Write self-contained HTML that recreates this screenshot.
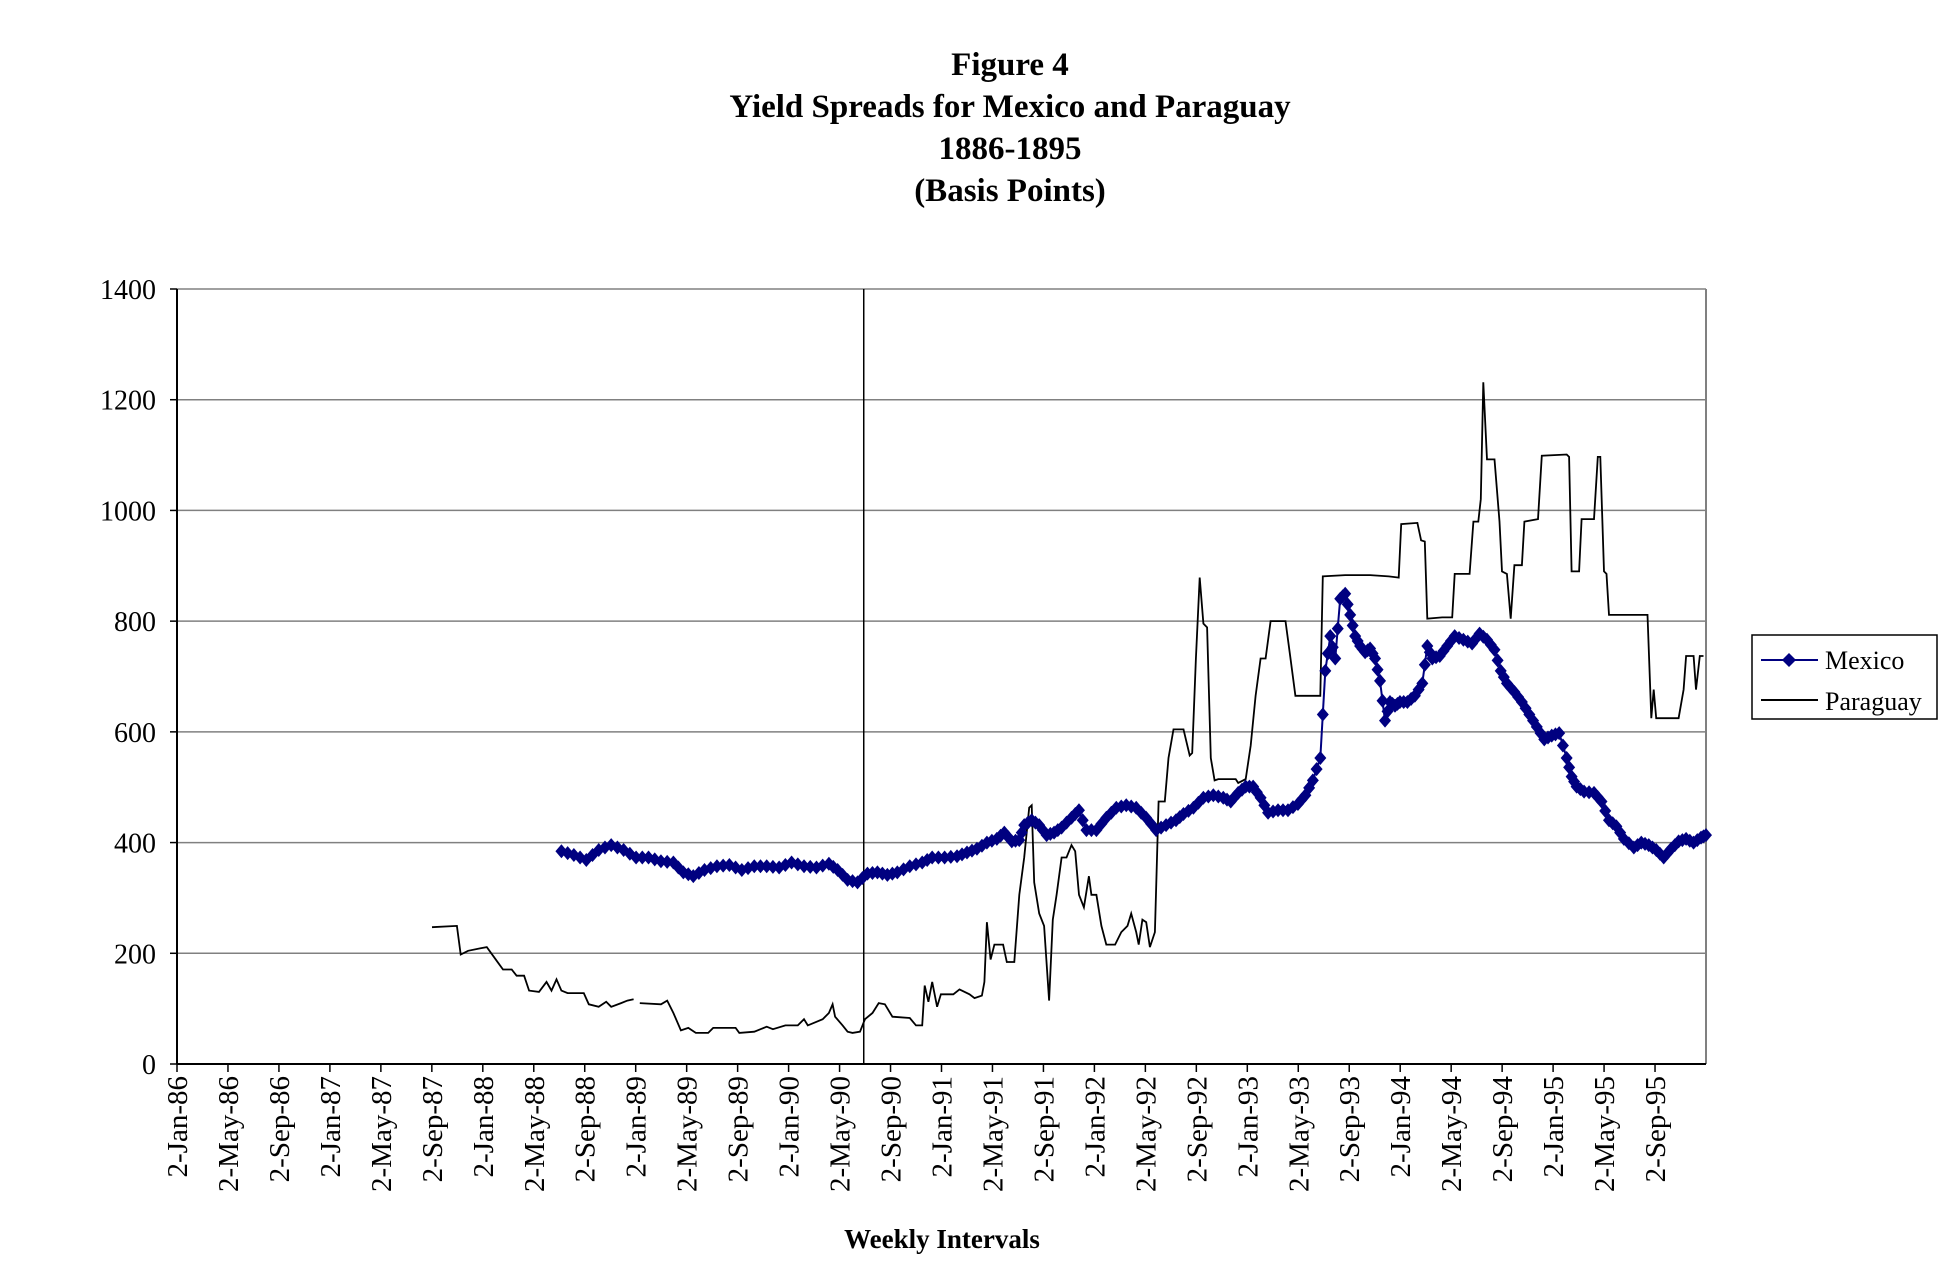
<!DOCTYPE html>
<html><head><meta charset="utf-8"><style>
html,body{margin:0;padding:0;background:#fff;}
body{width:1952px;height:1278px;overflow:hidden;font-family:"Liberation Serif",serif;}
</style></head><body>
<svg id="s" width="1952" height="1278" xmlns="http://www.w3.org/2000/svg" font-family="Liberation Serif, serif">
<g font-weight="bold" font-size="33" text-anchor="middle" fill="#000">
<text x="1010" y="75">Figure 4</text>
<text x="1010" y="117">Yield Spreads for Mexico and Paraguay</text>
<text x="1010" y="159">1886-1895</text>
<text x="1010" y="201">(Basis Points)</text>
<text x="942" y="1248" font-size="27">Weekly Intervals</text>
</g>
<g id="g"></g>
<rect x="1752" y="635" width="185" height="84" fill="#fff" stroke="#000" stroke-width="1.5"/>
<line x1="1761" y1="660" x2="1818" y2="660" stroke="#000080" stroke-width="2"/>
<path d="M1789 653 L1796 660 L1789 667 L1782 660Z" fill="#000080"/>
<line x1="1761" y1="700" x2="1818" y2="700" stroke="#000" stroke-width="2"/>
<text x="1825" y="669" font-size="26">Mexico</text>
<text x="1825" y="710" font-size="26">Paraguay</text>
</svg>
<script>
var NS="http://www.w3.org/2000/svg",g=document.getElementById('g');
function el(t,a,txt){var e=document.createElementNS(NS,t);for(var k in a)e.setAttribute(k,a[k]);if(txt)e.textContent=txt;g.appendChild(e);return e;}
var L=177,R=1706,T=289,B=1064;
function X(d){return 177+(d-141)*1.2441}
function Y(d){return 289+(d-233)*1.244}
for(var v=200;v<=1400;v+=200){var y=B-(B-T)*v/1400;el('line',{x1:L,x2:R,y1:y,y2:y,stroke:'#808080','stroke-width':1.5});}
el('line',{x1:R,x2:R,y1:T,y2:B,stroke:'#808080','stroke-width':2});
el('line',{x1:L,x2:L,y1:T,y2:B,stroke:'#000','stroke-width':2});
el('line',{x1:L,x2:R,y1:B,y2:B,stroke:'#000','stroke-width':2});
for(var v=0;v<=1400;v+=200){var y=B-(B-T)*v/1400;el('line',{x1:L-7,x2:L,y1:y,y2:y,stroke:'#000','stroke-width':1.5});
el('text',{x:156,y:y+10,'font-size':28,'text-anchor':'end'},String(v));}
var mon=['Jan','May','Sep'];
for(var i=0;i<30;i++){var x=L+(R-L)*i/30;el('line',{x1:x,x2:x,y1:B,y2:B+8,stroke:'#000','stroke-width':1.5});
var yr=86+Math.floor(i/3);el('text',{x:0,y:0,'font-size':29,'text-anchor':'end',transform:'translate('+(x+10)+','+(B+12)+') rotate(-90)'},'2-'+mon[i%3]+'-'+yr);}
el('line',{x1:X(693),x2:X(693),y1:T,y2:B,stroke:'#000','stroke-width':1.5});
var P=[[346,746],[366,745],[369,768],[375,765],[385,763],[390,762],[398,773],[403,780],[410,780],[414,785],[420,785],[424,797],[432,798],[438,790],[442,797],[446,788],[450,797],[455,799],[468,799],[472,808],[480,810],[486,806],[490,810],[498,807],[503,805],[508,804],null,[513,807],[530,808],[535,805],[540,815],[546,829],[552,827],[558,831],[568,831],[572,827],[590,827],[593,831],[605,830],[615,826],[620,828],[630,825],[640,825],[645,820],[648,825],[660,820],[665,815],[668,808],[670,818],[676,825],[680,830],[684,831],[690,830],[694,820],[700,815],[705,807],[710,808],[716,818],[730,819],[735,825],[740,825],[742,793],[745,806],[748,790],[752,810],[755,800],[765,800],[770,796],[778,800],[782,803],[788,801],[790,790],[792,742],[795,772],[798,760],[805,760],[808,774],[814,774],[818,720],[822,690],[826,650],[828,648],[830,710],[834,735],[838,745],[842,805],[845,740],[848,720],[852,690],[856,690],[860,680],[863,685],[866,720],[870,730],[874,705],[876,720],[880,720],[884,745],[888,760],[895,760],[900,750],[905,745],[908,735],[912,750],[914,760],[917,740],[920,742],[923,762],[927,750],[930,645],[935,645],[938,610],[942,587],[950,587],[955,608],[957,606],[960,530],[963,465],[966,502],[969,505],[972,610],[975,628],[978,627],[992,627],[994,630],[1000,627],[1004,600],[1008,560],[1012,530],[1016,530],[1020,500],[1032,500],[1036,530],[1040,560],[1044,560],[1060,560],[1062,464],[1080,463],[1100,463],[1115,464],[1123,465],[1125,422],[1138,421],[1141,435],[1144,436],[1146,498],[1158,497],[1166,497],[1168,462],[1180,462],[1183,420],[1187,420],[1189,402],[1191,308],[1194,370],[1200,370],[1204,420],[1206,460],[1210,462],[1213,498],[1216,455],[1222,455],[1224,420],[1235,418],[1238,367],[1258,366],[1260,368],[1262,460],[1268,460],[1270,418],[1280,418],[1283,368],[1285,368],[1288,460],[1290,462],[1292,495],[1323,495],[1326,578],[1328,555],[1330,578],[1348,578],[1352,555],[1354,528],[1360,528],[1362,555],[1365,528],[1368,528]];
var seg=[],segs=[seg];P.forEach(function(p){if(!p){seg=[];segs.push(seg);}else seg.push(X(p[0]).toFixed(1)+','+Y(p[1]).toFixed(1));});
segs.forEach(function(s){el('polyline',{points:s.join(' '),fill:'none',stroke:'#000','stroke-width':1.8});});
var M=[[450,685],[460,688],[470,692],[480,684],[490,680],[500,684],[510,690],[520,690],[530,693],[540,694],[548,702],[556,705],[565,700],[575,697],[585,696],[595,700],[605,697],[615,697],[625,698],[635,694],[645,697],[655,698],[665,695],[672,700],[680,708],[688,710],[696,703],[704,702],[712,704],[720,702],[730,697],[740,694],[748,690],[758,690],[768,689],[776,686],[784,683],[792,678],[800,675],[806,670],[812,677],[818,676],[822,664],[828,660],[834,664],[840,672],[846,670],[852,666],[860,658],[866,652],[872,668],[880,668],[888,658],[896,650],[904,648],[912,650],[920,658],[928,668],[936,664],[944,660],[950,655],[958,650],[966,642],[974,640],[982,642],[988,645],[994,638],[1000,633],[1006,633],[1012,642],[1018,654],[1026,652],[1034,652],[1042,647],[1048,640],[1054,628],[1060,610],[1064,540],[1068,512],[1072,530],[1076,482],[1080,478],[1084,495],[1088,512],[1092,520],[1096,525],[1100,522],[1104,530],[1108,548],[1112,580],[1116,565],[1120,568],[1124,565],[1130,565],[1136,560],[1142,550],[1146,520],[1150,530],[1156,528],[1162,520],[1168,512],[1175,515],[1182,518],[1188,510],[1194,515],[1200,523],[1205,540],[1210,550],[1216,557],[1222,565],[1228,575],[1234,585],[1240,595],[1246,592],[1252,590],[1258,610],[1262,625],[1266,633],[1272,637],[1280,638],[1286,645],[1292,660],[1298,665],[1304,675],[1312,682],[1318,678],[1324,680],[1330,684],[1336,690],[1342,683],[1348,677],[1354,675],[1360,678],[1366,674],[1370,672]];
var pts=[];for(var i=0;i<M.length;i++){pts.push([X(M[i][0]),Y(M[i][1])]);if(i<M.length-1){pts.push([X((M[i][0]+M[i+1][0])/2),Y((M[i][1]+M[i+1][1])/2)]);}}
el('polyline',{points:pts.map(function(p){return p[0].toFixed(1)+','+p[1].toFixed(1)}).join(' '),fill:'none',stroke:'#000080','stroke-width':2});
pts.forEach(function(p){var x=p[0],y=p[1];el('path',{d:'M'+x+' '+(y-7)+'L'+(x+6)+' '+y+'L'+x+' '+(y+7)+'L'+(x-6)+' '+y+'Z',fill:'#000080'});});
</script>
</body></html>
